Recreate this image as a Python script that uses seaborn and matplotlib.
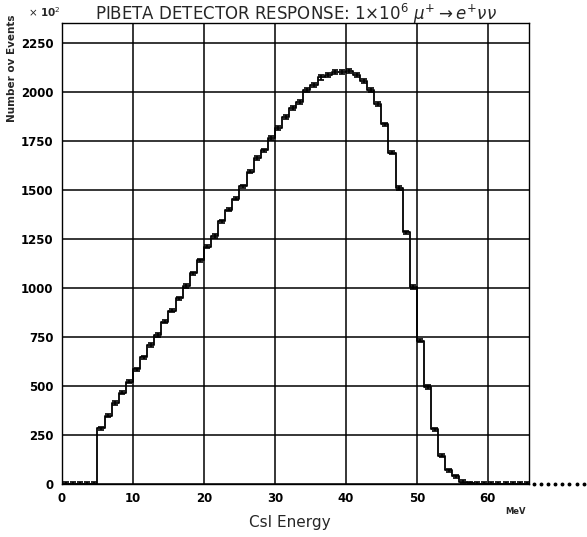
import numpy as np
import pandas as pd
import matplotlib
matplotlib.use("Agg")
import matplotlib.pyplot as plt
import seaborn as sns
from matplotlib.ticker import MultipleLocator

# ---- data (counts in units of 10^2 per 1 MeV bin) ----
bin_low = list(range(0, 66))
counts = [
    2, 1, 2, 1, 2,                                   # 0-4
    285, 348, 413, 466, 522, 586, 647, 709, 760, 828,  # 5-14
    884, 948, 1010, 1076, 1142, 1210, 1265, 1340, 1400, 1455,  # 15-24
    1520, 1593, 1663, 1703, 1765, 1816, 1873, 1918, 1950, 2009,  # 25-34
    2035, 2074, 2086, 2103, 2103, 2108, 2086, 2057, 2009, 1940,  # 35-44
    1835, 1690, 1510, 1285, 1005, 730, 495, 280, 145, 70,       # 45-54
    40, 12, 4, 2, 1, 1, 1, 1, 1, 1, 1,                          # 55-65
]
overflow_low = [66, 67, 68, 69, 70, 71, 72, 73]
overflow_counts = [1, 1, 1, 1, 1, 1, 1, 1]

x_ticks = [0, 10, 20, 30, 40, 50, 60]
y_ticks = [0, 250, 500, 750, 1000, 1250, 1500, 1750, 2000, 2250]

title = r"PIBETA DETECTOR RESPONSE: 1$\times$10$^6$ $\mu^{+}\rightarrow e^{+}\nu\nu$"
xlabel = "CsI Energy"
ylabel = "Number ov Events"

df = pd.DataFrame({"energy": np.array(bin_low) + 0.5, "count": counts})
edges = list(bin_low) + [bin_low[-1] + 1]

sns.set_style("white")
plt.rcParams["font.family"] = ["DejaVu Sans"]

fig = plt.figure(figsize=(5.87, 5.37), dpi=100)
ax = fig.add_axes([62 / 587, 1 - 484 / 537, (529 - 62) / 587, (484 - 23) / 537])

sns.histplot(data=df, x="energy", weights="count", bins=edges, element="step",
             fill=False, color="black", linewidth=1.3, ax=ax)

# small error-bar marks
err = [max(8.0, 0.005 * c) for c in counts]
ax.errorbar(df["energy"], df["count"], yerr=err, fmt="none", ecolor="black",
            elinewidth=1.2, capsize=2.0, capthick=1.2)
ax.plot(df["energy"][57:], df["count"][57:], ls="none", marker="o", ms=1.8,
        color="black")
ax.plot(np.array(overflow_low) + 0.5, overflow_counts, ls="none", marker="o",
        ms=1.8, color="black", clip_on=False)

ax.set_xlim(0, 65.8)
ax.set_ylim(0, 2352)
ax.set_xticks(x_ticks)
ax.set_yticks(y_ticks)
ax.xaxis.set_minor_locator(MultipleLocator(2))
ax.yaxis.set_minor_locator(MultipleLocator(50))
ax.grid(True, which="major", color="black", linewidth=1.1)
ax.set_axisbelow(True)
ax.tick_params(which="both", direction="in", colors="black", labelsize=8.5)
ax.tick_params(which="major", length=0, pad=6)
ax.tick_params(which="minor", length=3, width=0.8)
for lab in ax.get_xticklabels() + ax.get_yticklabels():
    lab.set_fontweight("bold")
for s in ax.spines.values():
    s.set_color("black")
    s.set_linewidth(1.0)

ax.set_xlabel("")
ax.set_ylabel("")
ax.set_title(title, fontsize=12, pad=2)
fig.text(290 / 587, 1 - 522 / 537, xlabel, ha="center", va="center", fontsize=11)
fig.text(515 / 587, 1 - 511 / 537, "MeV", ha="center", va="center", fontsize=6,
         fontweight="bold")
fig.text(12 / 587, 1 - 68 / 537, ylabel, ha="center", va="center", fontsize=7.5,
         rotation=90, fontweight="bold")
fig.text(44 / 587, 1 - 12 / 537, r"$\times$ 10$^2$", ha="center", va="center",
         fontsize=7.5, fontweight="bold")

fig.savefig("out.png", dpi=100)
